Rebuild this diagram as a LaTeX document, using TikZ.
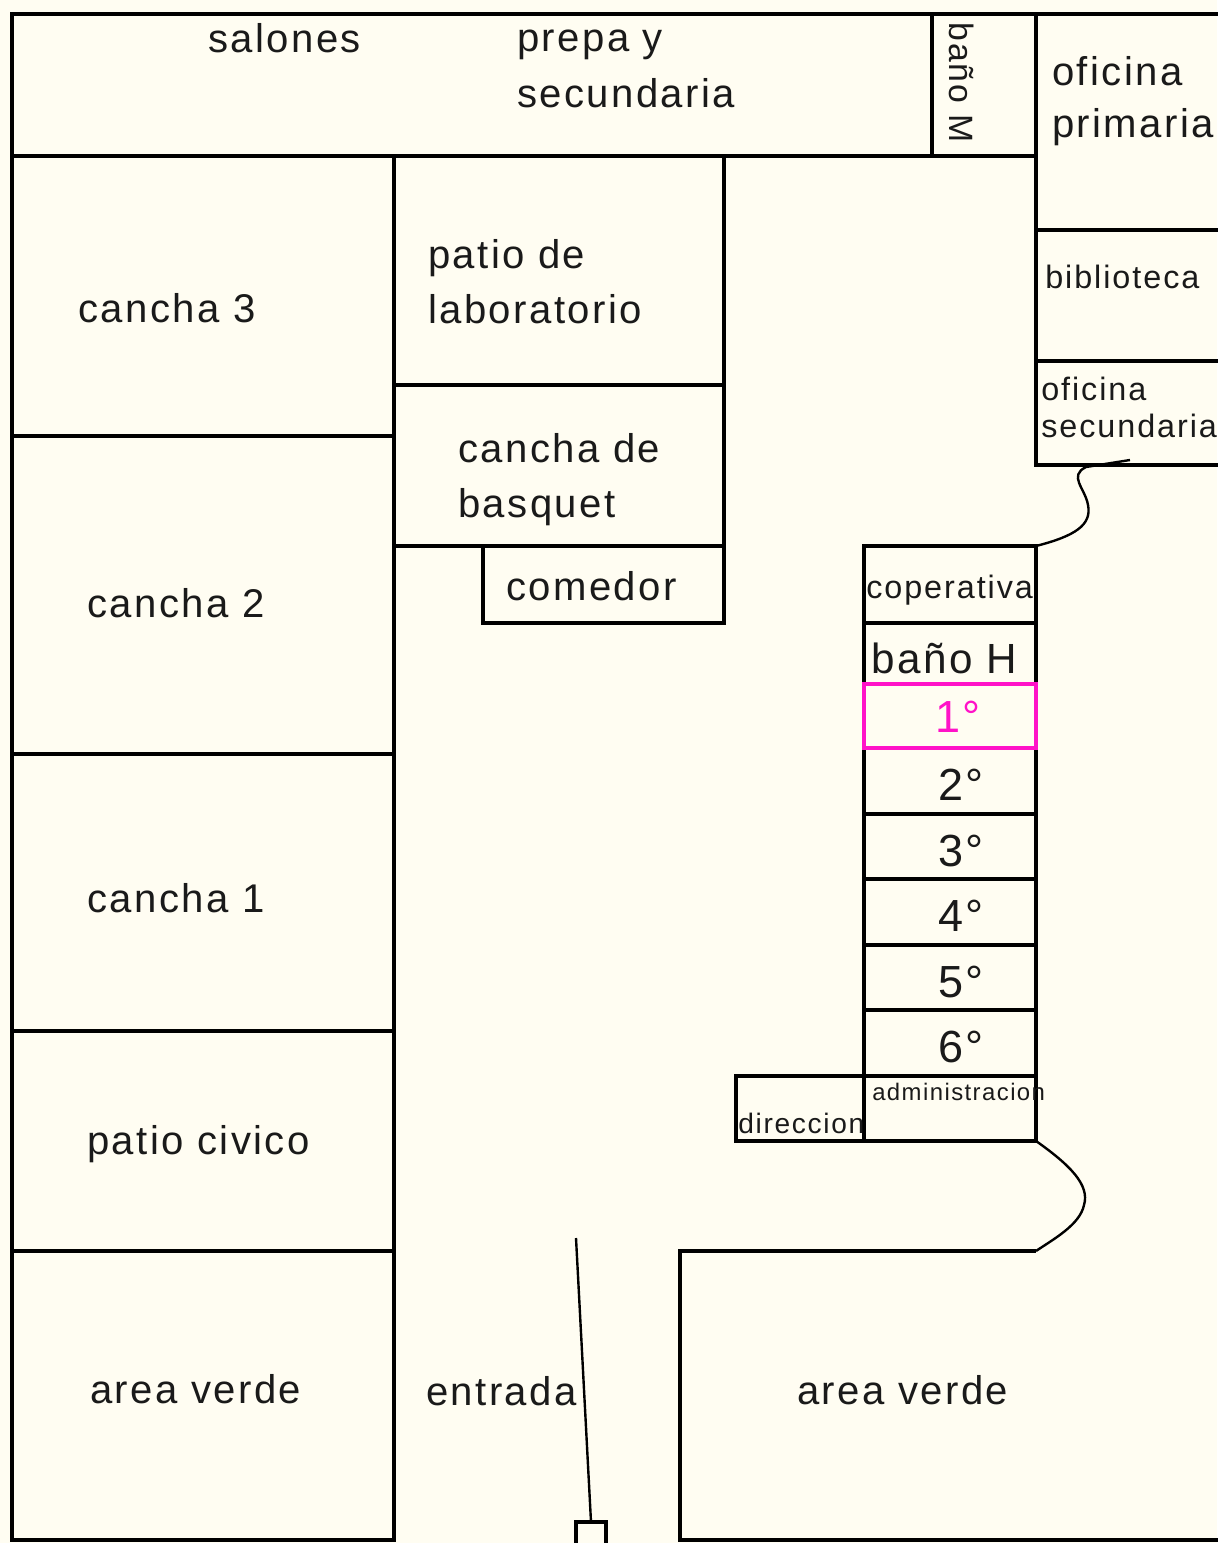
\documentclass[tikz,border=0pt]{standalone}
\usepackage{fontspec}
\usepackage{xcolor}
\usepackage{tikz}
\newfontfamily\planfont{Liberation Sans}[LetterSpace=6]
\definecolor{paper}{HTML}{FFFDF2}
\definecolor{ink}{HTML}{1A1A1A}
\definecolor{firstpink}{HTML}{FF12C8}

\begin{document}
\begin{tikzpicture}[x=0.025cm,y=-0.025cm,
  wall/.style={line width=2.5pt},
  trail/.style={line width=1.7pt},
  lbl/.style={anchor=base west,inner sep=0pt,text=ink,font=\planfont\fontsize{28.5pt}{30pt}\selectfont},
  lblmid/.style={lbl,font=\planfont\fontsize{23pt}{25pt}\selectfont},
  num/.style={anchor=base,inner sep=0pt,text=ink,font=\planfont\fontsize{32pt}{34pt}\selectfont}]
  \fill[paper](0,0)rectangle(1217,1543);
  \useasboundingbox(0,0)rectangle(1217,1543);
  \draw[wall](1225,14)--(12,14)--(12,1540)--(394,1540)--(394,156);
  \draw[wall](12,156)--(1036,156);
  \draw[wall](932,14)--(932,156);
  \draw[wall](1036,14)--(1036,465)--(1225,465);
  \foreach \y in {230,361}{
    \draw[wall](1036,\y)--(1225,\y);
  }
  \foreach \y in {436,754,1031,1251}{
    \draw[wall](12,\y)--(394,\y);
  }
  \foreach \y in {385,546}{
    \draw[wall](394,\y)--(724,\y);
  }
  \draw[wall](724,156)--(724,623)--(483,623)--(483,546);
  \draw[wall](864,546)rectangle(1036,1141);
  \foreach \y in {623,684,814,879,945,1010,1076}{
    \draw[wall](864,\y)--(1036,\y);
  }
  \draw[wall](864,1076)--(736,1076)--(736,1141)--(864,1141);
  \draw[wall,firstpink](864,684)rectangle(1036,748);
  \draw[wall](1225,1540)--(680,1540)--(680,1251)--(1036,1251);
  \draw[wall](576,1545)--(576,1522)--(606,1522)--(606,1545);
  \draw[trail](576,1238)--(591,1522);
  \draw[trail](1036,546)..controls(1075,536)and(1092,525)..(1088,505)..controls(1085,488)and(1068,476)..(1086,467)--(1130,460);
  \draw[trail](1036,1141)..controls(1070,1165)and(1090,1185)..(1084,1205)..controls(1080,1225)and(1052,1240)..(1036,1251);
  \node[lbl](salones)at(208,53){salones};
  \node[lbl](prepa)at(517,52){prepa y};
  \node[lbl](prepasec)at(517,108){secundaria};
  \node[lbl,font=\planfont\fontsize{24pt}{26pt}\selectfont,rotate=-90](banoM)at(949,22){baño M};
  \node[lbl](ofprim)at(1052,86){oficina};
  \node[lbl](ofprimb)at(1052,138){primaria};
  \node[lblmid](biblio)at(1045,288){biblioteca};
  \node[lblmid](ofsec)at(1041,400){oficina};
  \node[lblmid](ofsecb)at(1041,437){secundaria};
  \node[lbl](cancha3)at(78,322){cancha 3};
  \node[lbl](patiolab)at(428,268){patio de};
  \node[lbl](patiolabb)at(428,323){laboratorio};
  \node[lbl](basquet)at(458,462){cancha de};
  \node[lbl](basquetb)at(458,517){basquet};
  \node[lbl](comedor)at(506,600){comedor};
  \node[lbl](cancha2)at(87,617){cancha 2};
  \node[lbl](cancha1)at(87,912){cancha 1};
  \node[lbl](civico)at(87,1154){patio civico};
  \node[lbl](verdeL)at(90,1403){area verde};
  \node[lbl](entrada)at(426,1405){entrada};
  \node[lbl](verdeR)at(797,1404){area verde};
  \node[lblmid](coop)at(866,598){coperativa};
  \node[lbl,font=\planfont\fontsize{30pt}{32pt}\selectfont](banoH)at(871,673){baño H};
  \node[num,text=firstpink](g1)at(958,732){1°};
  \foreach \t/\n in {748/2,814/3,879/4,945/5,1010/6}{
    \node[num](g\n)at(961,\t+52){\n°};
  }
  \node[lbl,font=\planfont\fontsize{17pt}{19pt}\selectfont](admin)at(872,1100){administracion};
  \node[lbl,font=\planfont\fontsize{20pt}{22pt}\selectfont](direc)at(738,1133){direccion};
\end{tikzpicture}
\end{document}
